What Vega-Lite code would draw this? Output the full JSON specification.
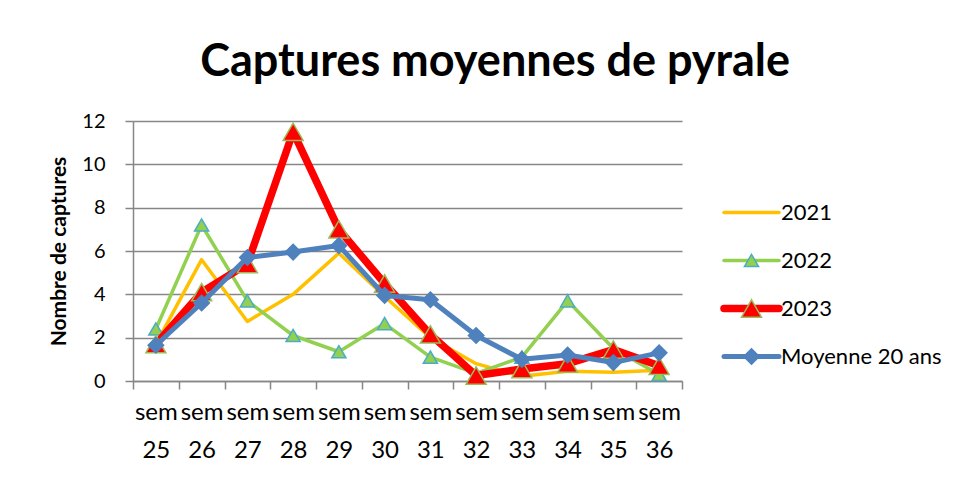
{
  "$schema": "https://vega.github.io/schema/vega-lite/v6.json",
  "background": "white",
  "padding": {"left": 48, "top": 40, "right": 0, "bottom": 0},
  "title": {"text": "Captures moyennes de pyrale", "fontSize": 45, "fontWeight": "bold", "font": "Lato", "color": "black", "anchor": "middle", "offset": 26},
  "config": {
    "font": "Lato",
    "view": {"stroke": null},
    "axis": {"domainColor": "#868686", "tickColor": "#868686", "gridColor": "#868686", "domainWidth": 1.5, "tickWidth": 1.5, "gridWidth": 1.5, "labelColor": "black", "titleColor": "black", "labelFont": "Lato", "titleFont": "Lato"}
  },
  "datasets": {
    "captures": [
      {"sem": "sem 25", "serie": "2021", "value": 1.7},
      {"sem": "sem 26", "serie": "2021", "value": 5.6},
      {"sem": "sem 27", "serie": "2021", "value": 2.75},
      {"sem": "sem 28", "serie": "2021", "value": 4.0},
      {"sem": "sem 29", "serie": "2021", "value": 5.9},
      {"sem": "sem 30", "serie": "2021", "value": 3.9},
      {"sem": "sem 31", "serie": "2021", "value": 2.0},
      {"sem": "sem 32", "serie": "2021", "value": 0.8},
      {"sem": "sem 33", "serie": "2021", "value": 0.22},
      {"sem": "sem 34", "serie": "2021", "value": 0.45},
      {"sem": "sem 35", "serie": "2021", "value": 0.4},
      {"sem": "sem 36", "serie": "2021", "value": 0.5},
      {"sem": "sem 25", "serie": "2022", "value": 2.4},
      {"sem": "sem 26", "serie": "2022", "value": 7.2},
      {"sem": "sem 27", "serie": "2022", "value": 3.7},
      {"sem": "sem 28", "serie": "2022", "value": 2.1},
      {"sem": "sem 29", "serie": "2022", "value": 1.35},
      {"sem": "sem 30", "serie": "2022", "value": 2.65},
      {"sem": "sem 31", "serie": "2022", "value": 1.1},
      {"sem": "sem 32", "serie": "2022", "value": 0.35},
      {"sem": "sem 33", "serie": "2022", "value": 1.1},
      {"sem": "sem 34", "serie": "2022", "value": 3.7},
      {"sem": "sem 35", "serie": "2022", "value": 1.5},
      {"sem": "sem 36", "serie": "2022", "value": 0.3},
      {"sem": "sem 25", "serie": "2023", "value": 1.7},
      {"sem": "sem 26", "serie": "2023", "value": 4.1},
      {"sem": "sem 27", "serie": "2023", "value": 5.4},
      {"sem": "sem 28", "serie": "2023", "value": 11.5},
      {"sem": "sem 29", "serie": "2023", "value": 7.0},
      {"sem": "sem 30", "serie": "2023", "value": 4.5},
      {"sem": "sem 31", "serie": "2023", "value": 2.15},
      {"sem": "sem 32", "serie": "2023", "value": 0.25},
      {"sem": "sem 33", "serie": "2023", "value": 0.55},
      {"sem": "sem 34", "serie": "2023", "value": 0.8},
      {"sem": "sem 35", "serie": "2023", "value": 1.45},
      {"sem": "sem 36", "serie": "2023", "value": 0.7},
      {"sem": "sem 25", "serie": "Moyenne 20 ans", "value": 1.65},
      {"sem": "sem 26", "serie": "Moyenne 20 ans", "value": 3.6},
      {"sem": "sem 27", "serie": "Moyenne 20 ans", "value": 5.7},
      {"sem": "sem 28", "serie": "Moyenne 20 ans", "value": 5.95},
      {"sem": "sem 29", "serie": "Moyenne 20 ans", "value": 6.25},
      {"sem": "sem 30", "serie": "Moyenne 20 ans", "value": 3.95},
      {"sem": "sem 31", "serie": "Moyenne 20 ans", "value": 3.75},
      {"sem": "sem 32", "serie": "Moyenne 20 ans", "value": 2.1},
      {"sem": "sem 33", "serie": "Moyenne 20 ans", "value": 1.0},
      {"sem": "sem 34", "serie": "Moyenne 20 ans", "value": 1.2},
      {"sem": "sem 35", "serie": "Moyenne 20 ans", "value": 0.85},
      {"sem": "sem 36", "serie": "Moyenne 20 ans", "value": 1.3}
    ],
    "legend": [
      {"serie": "2021"},
      {"serie": "2022"},
      {"serie": "2023"},
      {"serie": "Moyenne 20 ans"}
    ]
  },
  "hconcat": [
    {
      "width": 549,
      "height": 260,
      "data": {"name": "captures"},
      "encoding": {
        "x": {
          "field": "sem", "type": "ordinal", "sort": null, "bandPosition": 0.5,
          "scale": {"type": "band", "paddingInner": 0, "paddingOuter": 0},
          "axis": {"title": null, "labelAngle": 0, "tickBand": "extent", "tickSize": 8, "labelFontSize": 24, "labelPadding": 11, "labelLineHeight": 38, "labelExpr": "split(datum.label, ' ')", "grid": false}
        },
        "y": {
          "field": "value", "type": "quantitative",
          "scale": {"domain": [0, 12], "nice": false, "zero": true},
          "axis": {"title": "Nombre de captures", "titleFontSize": 21, "titleFontWeight": "bold", "titlePadding": 12, "values": [0, 2, 4, 6, 8, 10, 12], "tickSize": 8, "labelPadding": 20, "labelFontSize": 20, "grid": true}
        }
      },
      "layer": [
        {
          "transform": [{"filter": "datum.serie == '2021'"}],
          "mark": {"type": "line", "color": "#FFC000", "strokeWidth": 3.5, "strokeJoin": "round", "strokeCap": "round"}
        },
        {
          "transform": [{"filter": "datum.serie == '2022'"}],
          "mark": {"type": "line", "color": "#92D050", "strokeWidth": 3.5, "strokeJoin": "round", "strokeCap": "round"}
        },
        {
          "transform": [{"filter": "datum.serie == '2022'"}],
          "mark": {"type": "point", "shape": "triangle-up", "filled": true, "fill": "#92D050", "stroke": "#4BACC6", "strokeWidth": 1.5, "size": 200, "opacity": 1}
        },
        {
          "transform": [{"filter": "datum.serie == '2023'"}],
          "mark": {"type": "line", "color": "#FF0000", "strokeWidth": 7.5, "strokeJoin": "round", "strokeCap": "round"}
        },
        {
          "transform": [{"filter": "datum.serie == '2023'"}],
          "mark": {"type": "point", "shape": "triangle-up", "filled": true, "fill": "#FF0000", "stroke": "#9BBB59", "strokeWidth": 1.5, "size": 400, "opacity": 1}
        },
        {
          "transform": [{"filter": "datum.serie == 'Moyenne 20 ans'"}],
          "mark": {"type": "line", "color": "#4F81BD", "strokeWidth": 5, "strokeJoin": "round", "strokeCap": "round"}
        },
        {
          "transform": [{"filter": "datum.serie == 'Moyenne 20 ans'"}],
          "mark": {"type": "point", "shape": "diamond", "filled": true, "fill": "#4F81BD", "stroke": "#4F81BD", "strokeWidth": 1.5, "size": 240, "opacity": 1}
        }
      ]
    },
    {
      "width": 55,
      "height": 260,
      "data": {"name": "legend"},
      "encoding": {
        "y": {"field": "serie", "type": "ordinal", "sort": null, "axis": null, "scale": {"type": "point", "padding": 0, "domain": ["2021", "2022", "2023", "Moyenne 20 ans"], "range": [91.5, 235.5]}}
      },
      "layer": [
        {
          "mark": {"type": "rule", "strokeCap": "round"},
          "encoding": {
            "x": {"datum": 0, "type": "quantitative", "scale": {"domain": [0, 1]}, "axis": null},
            "x2": {"datum": 1},
            "color": {"field": "serie", "type": "nominal", "legend": null, "scale": {"type": "ordinal", "domain": ["2021", "2022", "2023", "Moyenne 20 ans"], "range": ["#FFC000", "#92D050", "#FF0000", "#4F81BD"]}},
            "strokeWidth": {"field": "serie", "type": "nominal", "legend": null, "scale": {"type": "ordinal", "domain": ["2021", "2022", "2023", "Moyenne 20 ans"], "range": [3.5, 3.5, 7.5, 5]}}
          }
        },
        {
          "transform": [{"filter": "datum.serie != '2021'"}],
          "mark": {"type": "point", "filled": true, "opacity": 1, "strokeWidth": 1.5},
          "encoding": {
            "x": {"datum": 0.5, "type": "quantitative"},
            "shape": {"field": "serie", "type": "nominal", "legend": null, "scale": {"type": "ordinal", "domain": ["2022", "2023", "Moyenne 20 ans"], "range": ["triangle-up", "triangle-up", "diamond"]}},
            "fill": {"field": "serie", "type": "nominal", "legend": null, "scale": {"type": "ordinal", "domain": ["2022", "2023", "Moyenne 20 ans"], "range": ["#92D050", "#FF0000", "#4F81BD"]}},
            "stroke": {"field": "serie", "type": "nominal", "legend": null, "scale": {"type": "ordinal", "domain": ["2022", "2023", "Moyenne 20 ans"], "range": ["#4BACC6", "#9BBB59", "#4F81BD"]}},
            "size": {"field": "serie", "type": "nominal", "legend": null, "scale": {"type": "ordinal", "domain": ["2022", "2023", "Moyenne 20 ans"], "range": [200, 400, 240]}}
          }
        },
        {
          "mark": {"type": "text", "align": "left", "baseline": "middle", "dx": 2, "fontSize": 22, "font": "Lato", "color": "black"},
          "encoding": {
            "x": {"datum": 1, "type": "quantitative"},
            "text": {"field": "serie", "type": "nominal"}
          }
        }
      ]
    }
  ],
  "spacing": 37
}
